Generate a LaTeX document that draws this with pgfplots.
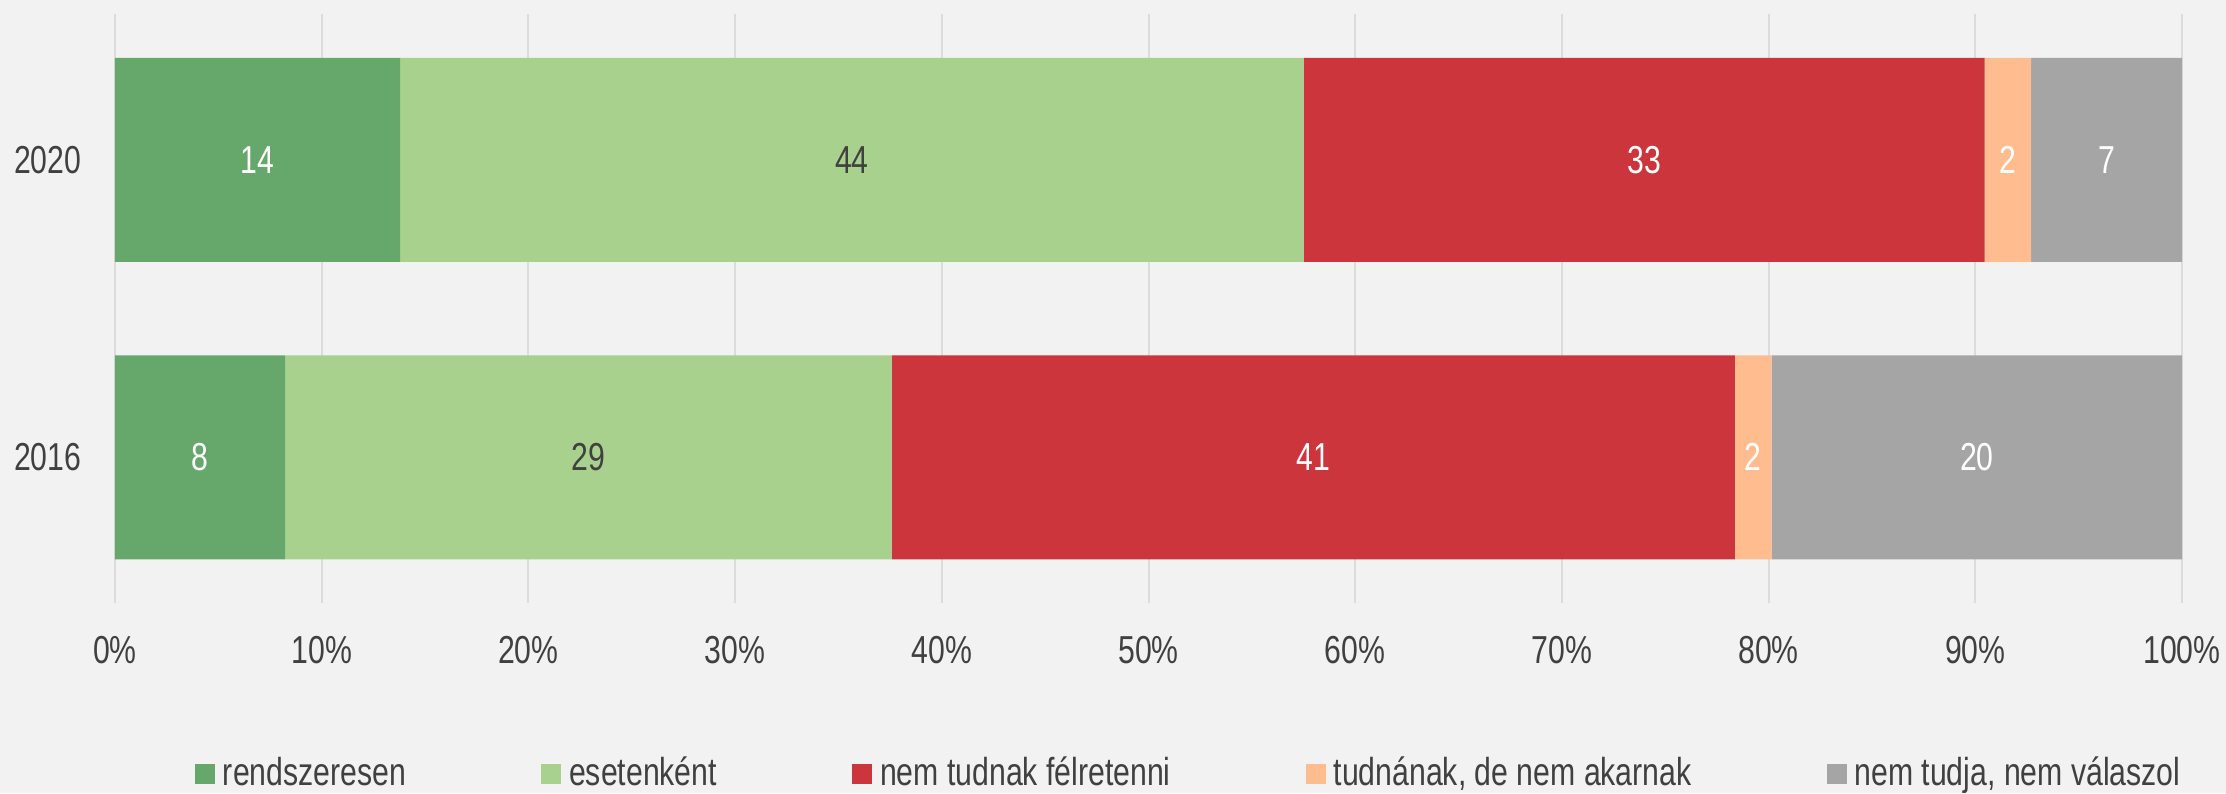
\documentclass[border=0pt]{standalone}
\usepackage{fontspec}
\setmainfont{Liberation Sans}[FakeStretch=0.775]
\usepackage{pgfplots}
\pgfplotsset{compat=1.18}
\definecolor{bgc}{HTML}{F2F2F2}
\definecolor{gridc}{HTML}{DCDCDC}
\definecolor{txt}{HTML}{404040}
\definecolor{cA}{HTML}{66A86C}
\definecolor{cB}{HTML}{A8D18D}
\definecolor{cC}{HTML}{CB353B}
\definecolor{cD}{HTML}{FFBC8E}
\definecolor{cE}{HTML}{A5A5A5}
\begin{document}
\fontsize{13}{15.6}\selectfont
\begin{tikzpicture}
\fill[bgc] (-38.333pt,-63.333pt) rectangle (703.667pt,201pt);
\begin{axis}[
  scale only axis,
  width=689pt, height=196.333pt,
  xbar stacked, bar width=68pt,
  xmin=0, xmax=100, ymin=-0.49, ymax=1.49,
  xtick={0,10,...,100},
  xticklabels={0\%,10\%,20\%,30\%,40\%,50\%,60\%,70\%,80\%,90\%,100\%},
  ytick={0,1}, yticklabels={2016,2020},
  xmajorgrids, ymajorgrids=false,
  grid style={draw=gridc, line width=0.67pt},
  axis line style={draw=none},
  tick style={draw=none},
  major tick length=0pt,
  xticklabel style={anchor=base, yshift=-20pt, inner sep=0pt, text=txt},
  yticklabel style={anchor=east, xshift=-11pt, inner sep=0pt, text=txt},
  /pgf/number format/assume math mode=true,
  point meta=explicit,
  nodes near coords={\pgfmathprintnumber[fixed,precision=0]{\pgfplotspointmeta}},
  every node near coord/.append style={anchor=center, inner sep=0pt},
  legend columns=5,
  legend cell align=left,
  legend image code/.code={\fill[#1] (0pt,-3.333pt) rectangle (6.667pt,3.333pt);},
  legend style={at={(axis description cs:0.0387,-0.29)}, anchor=west,
    draw=none, fill=none, inner sep=0pt, outer sep=0pt, text=txt,
    nodes={inner sep=0pt},
    /tikz/every odd column/.append style={column sep=2.67pt},
    /tikz/every even column/.append style={column sep=45pt}},
]
\addplot[fill=cA, draw=none, every node near coord/.append style={text=white}]
  coordinates {(13.8,1) [13.8] (8.24,0) [8.24]};
\addlegendentry{rendszeresen}
\addplot[fill=cB, draw=none, every node near coord/.append style={text=txt}]
  coordinates {(43.7,1) [43.7] (29.33,0) [29.33]};
\addlegendentry{esetenként}
\addplot[fill=cC, draw=none, every node near coord/.append style={text=white}]
  coordinates {(32.95,1) [32.95] (40.8,0) [40.8]};
\addlegendentry{nem tudnak félretenni}
\addplot[fill=cD, draw=none, every node near coord/.append style={text=white}]
  coordinates {(2.25,1) [2.25] (1.78,0) [1.78]};
\addlegendentry{tudnának, de nem akarnak}
\addplot[fill=cE, draw=none, every node near coord/.append style={text=white}]
  coordinates {(7.3,1) [7.3] (19.85,0) [19.85]};
\addlegendentry{nem tudja, nem válaszol}
\end{axis}
\pgfresetboundingbox
\path[use as bounding box] (-38.333pt,-63.333pt) rectangle (703.667pt,201pt);
\end{tikzpicture}
\end{document}
